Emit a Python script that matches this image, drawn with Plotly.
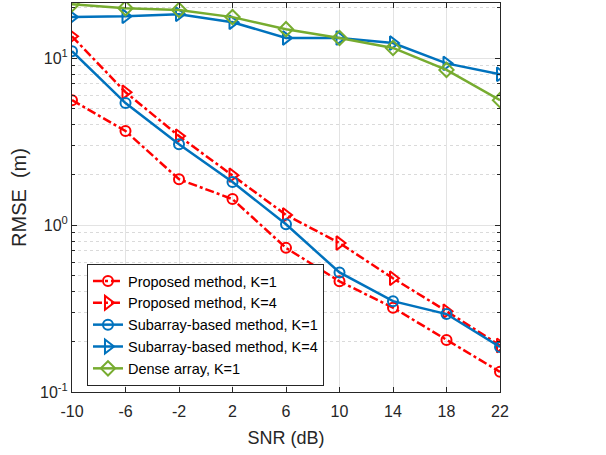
import plotly.graph_objects as go

snr = [-10, -6, -2, 2, 6, 10, 14, 18, 22]
proposed_k1 = [5.6, 3.66, 1.88, 1.43, 0.73, 0.46, 0.32, 0.205, 0.132]
proposed_k4 = [13.5, 6.25, 3.41, 1.99, 1.15, 0.78, 0.48, 0.305, 0.19]
subarray_k1 = [11.0, 5.38, 3.05, 1.81, 1.01, 0.52, 0.35, 0.293, 0.186]
subarray_k4 = [17.6, 17.8, 18.3, 16.4, 13.2, 13.2, 12.3, 9.3, 8.0]
dense_k1 = [21.0, 19.9, 19.4, 17.6, 14.9, 13.2, 11.5, 8.5, 5.6]

x_ticks = [-10, -6, -2, 2, 6, 10, 14, 18, 22]
x_ticktext = ["-10", "-6", "-2", "2", "6", "10", "14", "18", "22"]
y_tickvals = [0.1, 1, 10]
y_ticktext = ["10<sup>-1</sup>", "10<sup>0</sup>", "10<sup>1</sup>"]
y_minor = [0.2, 0.3, 0.4, 0.5, 0.6, 0.7, 0.8, 0.9,
           2, 3, 4, 5, 6, 7, 8, 9, 20]

RED = "#FF0000"
BLUE = "#0072BD"
GREEN = "#77AC30"

series = [
    ("Proposed method, K=1", proposed_k1, RED, "dashdot", "circle-open", 10),
    ("Proposed method, K=4", proposed_k4, RED, "dashdot", "triangle-right-open", 12),
    ("Subarray-based method, K=1", subarray_k1, BLUE, "solid", "circle-open", 10),
    ("Subarray-based method, K=4", subarray_k4, BLUE, "solid", "triangle-right-open", 12),
    ("Dense array, K=1", dense_k1, GREEN, "solid", "diamond-open", 11),
]

fig = go.Figure()
for i, (name, vals, color, dash, sym, size) in enumerate(series):
    fig.add_trace(go.Scatter(
        x=snr, y=vals, name=name, mode="lines+markers", legendgroup=f"g{i}",
        line=dict(color=color, width=2.5, dash=dash),
        marker=dict(symbol=sym, size=size, color=color, line=dict(color=color, width=2)),
    ))

axcol = "#262626"
fig.update_layout(
    width=606, height=455,
    margin=dict(l=72, r=106, t=3, b=63),
    paper_bgcolor="white", plot_bgcolor="white",
    font=dict(family="Liberation Sans, Arial, sans-serif", size=16, color=axcol),
    showlegend=True,
    legend=dict(
        x=0.035, y=0.329, xanchor="left", yanchor="top",
        bgcolor="white", bordercolor="#262626", borderwidth=1,
        font=dict(size=14.5, color="#000000"),
        traceorder="grouped", tracegroupgap=0, itemwidth=30,
    ),
)
fig.update_xaxes(
    range=[-10, 22], tickvals=x_ticks, ticktext=x_ticktext,
    showline=True, linecolor=axcol, linewidth=1, mirror="ticks",
    ticks="inside", ticklen=5, tickcolor=axcol, ticklabelstandoff=5,
    showgrid=True, gridcolor="#e3e3e3", gridwidth=1, zeroline=False,
    title=dict(text="SNR (dB)", font=dict(size=18), standoff=12),
    tickfont=dict(size=16),
)
fig.update_yaxes(
    type="log", range=[-1, 1.33],
    tickvals=y_tickvals, ticktext=y_ticktext,
    showline=True, linecolor=axcol, linewidth=1, mirror="ticks",
    ticks="inside", ticklen=5, tickcolor=axcol,
    showgrid=True, gridcolor="#e3e3e3", gridwidth=1, zeroline=False,
    minor=dict(tickvals=y_minor, ticks="inside", ticklen=3, tickcolor=axcol,
               showgrid=True, gridcolor="#dadada", griddash="dot", gridwidth=1),
    title=dict(text="RMSE\u00a0\u00a0(m)", font=dict(size=20), standoff=8),
    tickfont=dict(size=16),
)

fig.write_html("out.html", config={"displayModeBar": False},
               post_script="document.body.style.margin='0';")
